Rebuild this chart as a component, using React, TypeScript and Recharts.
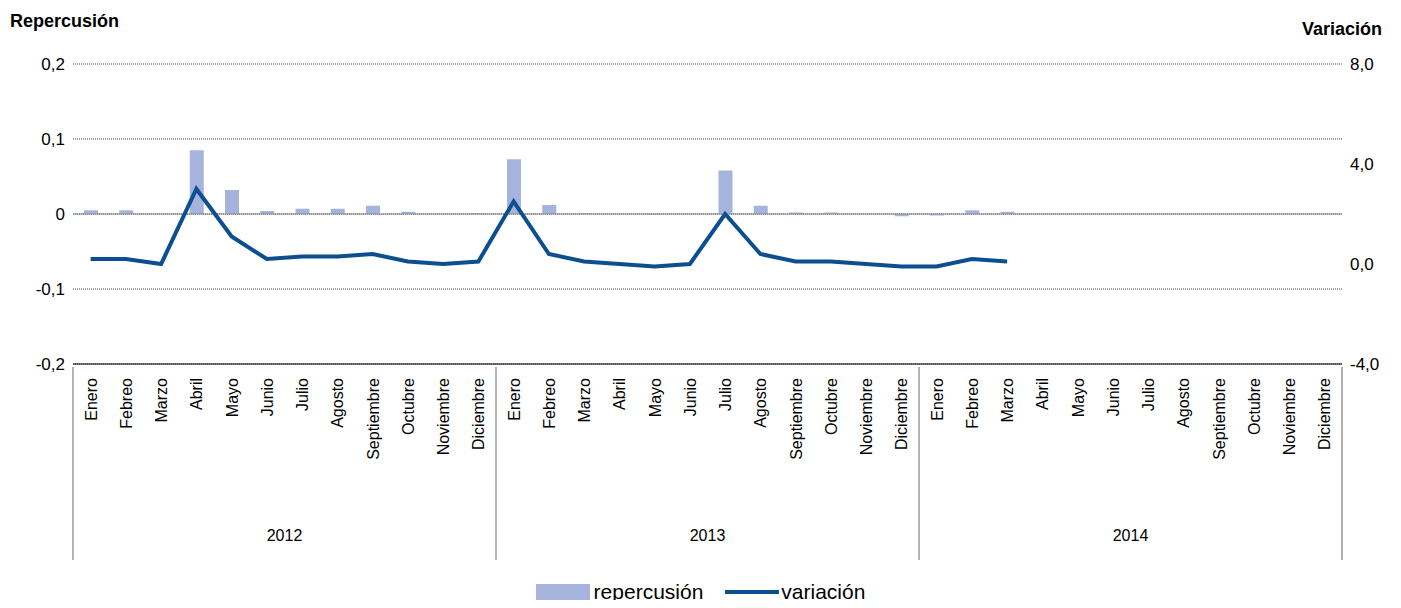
import { ComposedChart, Bar, Line, XAxis, YAxis, CartesianGrid, ReferenceLine } from 'recharts';

const monthNames = ['Enero', 'Febreo', 'Marzo', 'Abril', 'Mayo', 'Junio', 'Julio', 'Agosto', 'Septiembre', 'Octubre', 'Noviembre', 'Diciembre'];
const years = ['2012', '2013', '2014'];
const repercusion: (number | null)[] = [
  0.005, 0.005, 0, 0.085, 0.032, 0.004, 0.007, 0.007, 0.011, 0.003, 0, 0.001,
  0.073, 0.012, 0.001, 0, -0.001, 0, 0.058, 0.011, 0.002, 0.002, 0, -0.003,
  -0.002, 0.005, 0.003, null, null, null, null, null, null, null, null, null,
];
const variacion: (number | null)[] = [
  0.2, 0.2, 0.0, 3.0, 1.1, 0.2, 0.3, 0.3, 0.4, 0.1, 0.0, 0.1,
  2.5, 0.4, 0.1, 0.0, -0.1, 0.0, 2.0, 0.4, 0.1, 0.1, 0.0, -0.1,
  -0.1, 0.2, 0.1, null, null, null, null, null, null, null, null, null,
];
const leftTicks = [-0.2, -0.1, 0, 0.1, 0.2];
const rightTicks = [-4, 0, 4, 8];

const data = repercusion.map((r, i) => ({
  key: `${years[Math.floor(i / 12)]}-${i % 12}`,
  month: monthNames[i % 12],
  year: years[Math.floor(i / 12)],
  repercusion: r,
  variacion: variacion[i],
}));

const FONT = '"Liberation Sans", Arial, sans-serif';
const BAND = (1342 - 73) / 36;

const MonthTick = (props: any) => {
  const { x, y, payload } = props;
  return (
    <text x={x + 6} y={y + 6} transform={`rotate(-90, ${x + 6}, ${y + 6})`} textAnchor="end" fontSize={16} fill="#000" fontFamily={FONT}>
      {data[payload.index].month}
    </text>
  );
};

const YearTick = (props: any) => {
  const { x, y, payload } = props;
  const idx = payload.index;
  const els: any[] = [];
  if (idx % 12 === 0) {
    els.push(<line key="l" x1={x - BAND / 2} x2={x - BAND / 2} y1={y - 131} y2={y + 62} stroke="#666" />);
  }
  if (idx === 35) {
    els.push(<line key="r" x1={x + BAND / 2} x2={x + BAND / 2} y1={y - 131} y2={y + 62} stroke="#666" />);
  }
  if (idx % 12 === 5) {
    els.push(
      <text key="t" x={x + BAND / 2} y={y + 43} textAnchor="middle" fontSize={16} fill="#000" fontFamily={FONT}>
        {data[idx].year}
      </text>
    );
  }
  return <g>{els}</g>;
};

const fmt = (v: number) => v.toFixed(1).replace('.', ',');
const fmtL = (v: number) => (v === 0 ? '0' : fmt(v));

export default function App() {
  return (
    <div style={{ margin: -8, position: 'relative', width: 1401, height: 608, background: '#fff', fontFamily: FONT }}>
      <div style={{ position: 'absolute', left: 10, top: 11, fontWeight: 'bold', fontSize: 18 }}>Repercusión</div>
      <div style={{ position: 'absolute', right: 19, top: 19, fontWeight: 'bold', fontSize: 18 }}>Variación</div>
      <ComposedChart width={1401} height={608} data={data} margin={{ top: 64, right: 0, left: 0, bottom: 53 }} barCategoryGap="30%">
        <CartesianGrid vertical={false} stroke="#444" strokeDasharray="1 1" yAxisId="l" />
        <XAxis xAxisId="m" dataKey="key" interval={0} tick={<MonthTick />} tickLine={false} axisLine={{ stroke: '#000' }} height={126} />
        <XAxis xAxisId="y" dataKey="key" interval={0} tick={<YearTick />} tickLine={false} axisLine={false} height={65} />
        <YAxis yAxisId="l" domain={[-0.2, 0.2]} ticks={leftTicks} tickFormatter={fmtL} width={73} axisLine={false} tickLine={false} tick={{ fontSize: 17, fill: '#000', fontFamily: FONT }} />
        <YAxis yAxisId="r" orientation="right" domain={[-4, 8]} ticks={rightTicks} tickFormatter={fmt} width={59} axisLine={false} tickLine={false} tick={{ fontSize: 17, fill: '#000', fontFamily: FONT }} />
        <ReferenceLine yAxisId="l" xAxisId="m" y={0} stroke="#888" />
        <Bar yAxisId="l" xAxisId="m" dataKey="repercusion" name="repercusión" fill="#a6b3dc" barSize={14} isAnimationActive={false} />
        <Line yAxisId="r" xAxisId="m" dataKey="variacion" name="variación" stroke="#0b4f91" strokeWidth={4} dot={false} isAnimationActive={false} />
      </ComposedChart>
      <div style={{ position: 'absolute', left: 0, width: 1401, top: 580, display: 'flex', justifyContent: 'center', alignItems: 'center', fontSize: 21, color: '#000' }}>
        <span style={{ display: 'inline-block', width: 54, height: 16, background: '#a6b3dc', marginRight: 4 }} />
        <span style={{ marginRight: 22 }}>repercusión</span>
        <span style={{ display: 'inline-block', width: 54, height: 4, background: '#0b4f91', marginRight: 2 }} />
        <span>variación</span>
      </div>
    </div>
  );
}
